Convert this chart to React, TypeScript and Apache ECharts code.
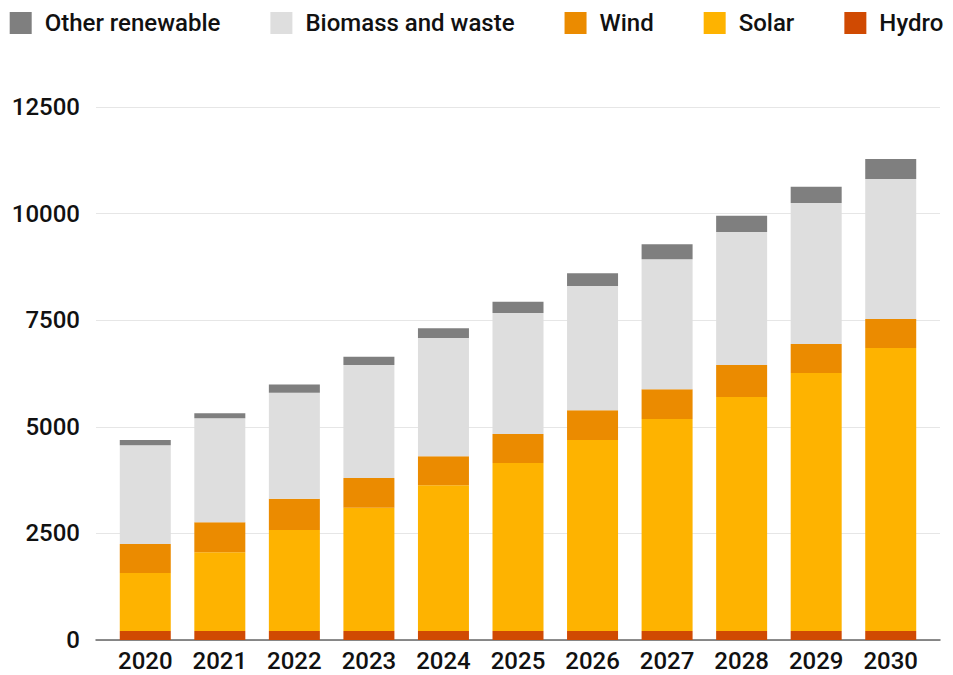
import React, { useEffect, useRef } from "react";
import * as echarts from "echarts";

const years = ["2020", "2021", "2022", "2023", "2024", "2025", "2026", "2027", "2028", "2029", "2030"];
const yTicks = [0, 2500, 5000, 7500, 10000, 12500];
const hydro = [210, 210, 210, 210, 210, 210, 210, 210, 210, 210, 210];
const solar = [1360, 1850, 2370, 2890, 3420, 3940, 4480, 4970, 5490, 6050, 6640];
const wind = [680, 700, 730, 700, 680, 680, 700, 700, 750, 680, 680];
const biomass = [2320, 2440, 2490, 2650, 2770, 2840, 2910, 3050, 3120, 3310, 3280];
const other = [120, 120, 190, 190, 230, 260, 300, 350, 380, 380, 470];

const FONT = "Roboto, 'Liberation Sans', Arial, sans-serif";

export default function App() {
  const ref = useRef<HTMLDivElement>(null);
  useEffect(() => {
    document.body.style.margin = "0";
    const chart = echarts.init(ref.current!, null, { renderer: "svg" });
    const mk = (name: string, data: number[], color: string) => ({
      name,
      type: "bar",
      stack: "total",
      xAxisIndex: 1,
      yAxisIndex: 1,
      data,
      barWidth: 51,
      itemStyle: { color },
    });
    const lbl = { fontSize: 24, fontWeight: 500, color: "#111", fontFamily: FONT };
    chart.setOption({
      animation: false,
      textStyle: { fontFamily: FONT },
      legend: {
        top: 11,
        left: "center",
        padding: 0,
        itemWidth: 22,
        itemHeight: 22,
        itemGap: 50,
        icon: "rect",
        textStyle: { ...lbl, padding: [0, 0, 0, 8] },
        data: ["Other renewable", "Biomass and waste", "Wind", "Solar", "Hydro"],
      },
      grid: [
        { left: 96, right: 13, top: 107, bottom: 35 },
        { left: 108, right: 25, top: 107, bottom: 35 },
      ],
      xAxis: [
        {
          gridIndex: 0,
          type: "value",
          min: 0,
          max: 1,
          axisLine: { show: true, lineStyle: { color: "#666", width: 1.5 } },
          axisTick: { show: false },
          axisLabel: { show: false },
          splitLine: { show: false },
        },
        {
          gridIndex: 1,
          type: "category",
          data: years,
          axisLine: { show: false },
          axisTick: { show: false },
          axisLabel: { ...lbl, margin: 12, lineHeight: 18, interval: 0 },
        },
      ],
      yAxis: [
        {
          gridIndex: 0,
          type: "value",
          min: yTicks[0],
          max: yTicks[yTicks.length - 1],
          interval: yTicks[1] - yTicks[0],
          axisLine: { show: false },
          axisTick: { show: false },
          axisLabel: { ...lbl, margin: 16, formatter: (v: number) => String(v) },
          splitLine: { lineStyle: { color: "#e6e6e6", width: 1.2 } },
        },
        {
          gridIndex: 1,
          type: "value",
          min: yTicks[0],
          max: yTicks[yTicks.length - 1],
          show: false,
          splitLine: { show: false },
        },
      ],
      series: [
        mk("Hydro", hydro, "#d04a02"),
        mk("Solar", solar, "#feb300"),
        mk("Wind", wind, "#eb8b00"),
        mk("Biomass and waste", biomass, "#dedede"),
        mk("Other renewable", other, "#7f7f7f"),
      ],
    });
    return () => chart.dispose();
  }, []);
  return <div ref={ref} style={{ width: 953, height: 675 }} />;
}
